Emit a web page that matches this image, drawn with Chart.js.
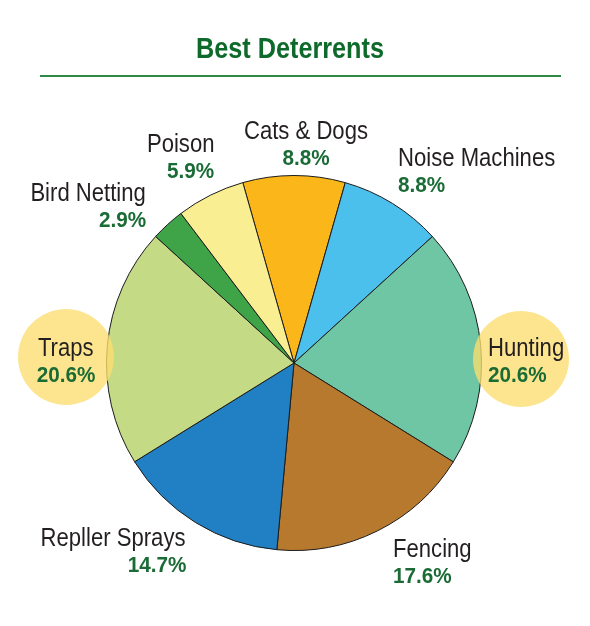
<!DOCTYPE html>
<html>
<head>
<meta charset="utf-8">
<script src="https://cdn.jsdelivr.net/npm/chart.js@4/dist/chart.umd.min.js"></script>
<style>
  body { margin: 0; background: #fff; }
  #wrap { position: relative; width: 590px; height: 626px; overflow: hidden;
    font-family: "Liberation Sans", Arial, sans-serif; }
  #pie { position: absolute; left: 0; top: 0; }
  .title { position: absolute; left: 0; width: 580px; top: 30px; text-align: center; line-height: 36px; }
  .title span { display: inline-block; font-size: 29px; font-weight: bold; color: #0d6a2b;
    transform: scaleX(0.87); transform-origin: center; }
  .rule { position: absolute; left: 40px; width: 521px; top: 75px; height: 2px; background: #2f8a4a; }
  .spot { position: absolute; border-radius: 50%; background: rgba(252, 222, 112, 0.78); }
  .lbl { position: absolute; line-height: 28px; white-space: nowrap; }
  .lbl div { height: 28px; }
  .lbl span { display: inline-block; }
  .lbl .nm { font-size: 26px; color: #231f20; transform: scaleX(0.85); }
  .lbl .pc { font-size: 22px; font-weight: bold; color: #1a6b35; transform: scaleX(0.94); }
</style>
</head>
<body>
<div id="wrap">
  <canvas id="pie" width="590" height="626"></canvas>
  <div class="title"><span>Best Deterrents</span></div>
  <div class="rule"></div>
</div>
<script>
// slices, clockwise from the top
const categories = ["Cats & Dogs", "Noise Machines", "Hunting", "Fencing", "Repller Sprays", "Traps", "Bird Netting", "Poison"];
const shares = [8.8, 8.8, 20.6, 17.6, 14.7, 20.6, 2.9, 5.9];
const pctLabels = ["8.8%", "8.8%", "20.6%", "17.6%", "14.7%", "20.6%", "2.9%", "5.9%"];
const sliceColors = ["#fbb61a", "#4bc0ec", "#6ec6a4", "#b7792d", "#2180c4", "#c4da85", "#3ea447", "#faee92"];
const highlighted = ["Traps", "Hunting"];

// where each label sits: x, y of the name line, alignment
const labelSpots = {
  "Cats & Dogs":    { x: 306, y: 130, align: "center" },
  "Noise Machines": { x: 398, y: 157, align: "left" },
  "Hunting":        { x: 488, y: 347, align: "left" },
  "Fencing":        { x: 393, y: 548, align: "left" },
  "Repller Sprays": { x: 186, y: 537, align: "right" },
  "Traps":          { x: 66,  y: 347, align: "center" },
  "Bird Netting":   { x: 146, y: 192, align: "right" },
  "Poison":         { x: 214, y: 143, align: "right" }
};
const circleSpots = { "Traps": { x: 66, y: 357 }, "Hunting": { x: 521, y: 359 } };

const wrap = document.getElementById("wrap");

highlighted.forEach(name => {
  const c = circleSpots[name], r = 48;
  const d = document.createElement("div");
  d.className = "spot";
  d.style.left = (c.x - r) + "px";
  d.style.top = (c.y - r) + "px";
  d.style.width = d.style.height = (2 * r) + "px";
  wrap.appendChild(d);
});

function line(cls, text, align) {
  const row = document.createElement("div");
  row.style.textAlign = align;
  const s = document.createElement("span");
  s.className = cls;
  s.textContent = text;
  s.style.transformOrigin = align === "center" ? "center" : align;
  row.appendChild(s);
  return row;
}

categories.forEach((name, i) => {
  const p = labelSpots[name];
  const d = document.createElement("div");
  d.className = "lbl";
  d.style.top = (p.y - 14) + "px";
  if (p.align === "left") d.style.left = p.x + "px";
  else if (p.align === "right") d.style.right = (590 - p.x) + "px";
  else { d.style.left = (p.x - 100) + "px"; d.style.width = "200px"; }
  d.appendChild(line("nm", name, p.align));
  d.appendChild(line("pc", pctLabels[i], p.align));
  wrap.appendChild(d);
});

new Chart(document.getElementById("pie"), {
  type: "pie",
  data: {
    labels: categories,
    datasets: [{
      data: shares,
      backgroundColor: sliceColors,
      borderColor: "#1b1b1b",
      borderWidth: 1
    }]
  },
  options: {
    responsive: false,
    animation: false,
    rotation: -15.84,
    layout: { padding: { left: 106, right: 108, top: 175, bottom: 75 } },
    plugins: { legend: { display: false }, tooltip: { enabled: false } }
  }
});
</script>
</body>
</html>
